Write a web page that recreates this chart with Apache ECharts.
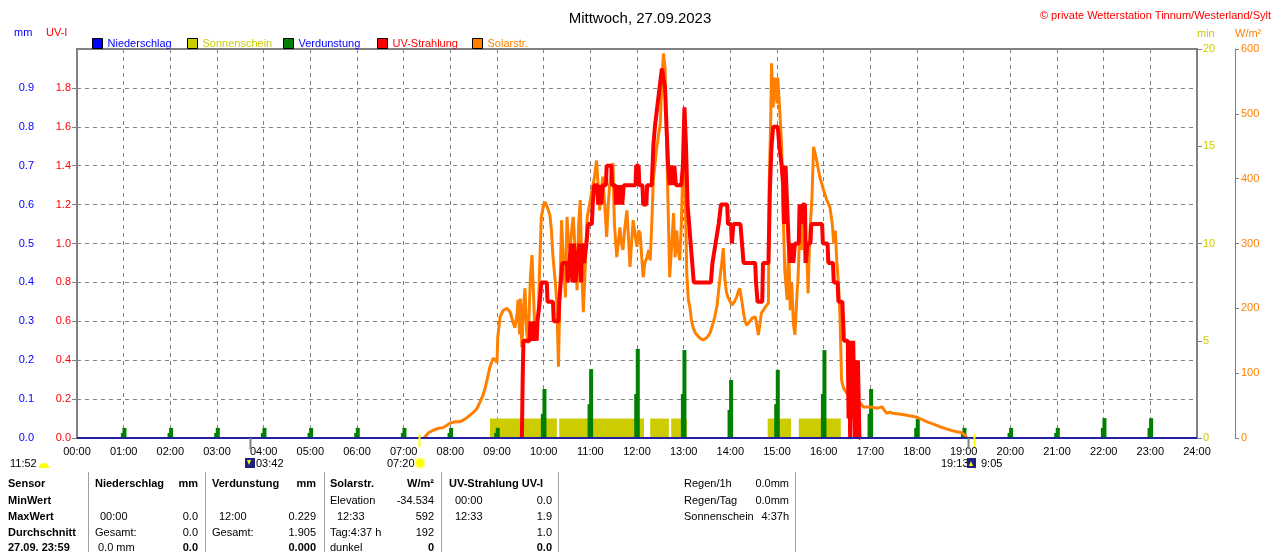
<!DOCTYPE html>
<html>
<head>
<meta charset="utf-8">
<title>Mittwoch, 27.09.2023</title>
<script src="https://cdn.jsdelivr.net/npm/echarts@6.0.0/dist/echarts.min.js"></script>
<style>
html, body { margin: 0; padding: 0; background: #fff; }
#chart { width: 1280px; height: 552px; }
</style>
</head>
<body>
<div id="chart"></div>
<script>
var FONT = "'Liberation Sans', Arial, sans-serif";

// Zeitachse: Minuten seit Mitternacht
var hourLabels = ['00:00', '01:00', '02:00', '03:00', '04:00', '05:00', '06:00', '07:00', '08:00',
    '09:00', '10:00', '11:00', '12:00', '13:00', '14:00', '15:00', '16:00', '17:00', '18:00',
    '19:00', '20:00', '21:00', '22:00', '23:00', '24:00'];

// Niederschlag (mm) - den ganzen Tag 0
var rainData = [[0, 0], [1440, 0]];

// Sonnenschein: Bloecke [Start, Ende] in Minuten, Hoehe in min/min
var sunStart = [531, 620, 737, 764, 888, 928];
var sunEnd = [617, 729, 761, 784, 918, 982];
var sunMinutes = 1;

// Verdunstung (mm) je Stunde
var evapHours = [1, 2, 3, 4, 5, 6, 7, 8, 9, 10, 11, 12, 13, 14, 15, 16, 17, 18, 19, 20, 21, 22, 23];
var evapPeak = [0.026, 0.026, 0.026, 0.026, 0.026, 0.026, 0.026, 0.026, 0.026, 0.126, 0.177, 0.229,
    0.226, 0.149, 0.175, 0.226, 0.126, 0.049, 0.026, 0.026, 0.026, 0.051, 0.051];
var evapBase = [0.013, 0.013, 0.013, 0.013, 0.013, 0.013, 0.013, 0.013, 0.013, 0.062, 0.087, 0.113,
    0.113, 0.072, 0.087, 0.113, 0.062, 0.026, 0.013, 0.013, 0.013, 0.026, 0.026];

// UV-Strahlung (UV-I), [Minute, Wert]
var uvData = [[572,0],[573,0.3],[574,0.5],[582,0.5],[583,0.6],[585,0.5],[586,0.6],[588,0.5],[589,0.6],
    [591,0.5],[592,0.6],[594,0.6],[595,0.7],[597,0.8],[604,0.8],[605,0.7],[612,0.7],[613,0.6],[619,0.6],
    [620,0.7],[622,0.8],[624,0.9],[630,0.9],[631,0.8],[633,0.9],[635,1.0],[637,0.8],[639,1.0],[641,0.8],
    [643,0.9],[646,1.0],[648,0.8],[650,1.0],[652,0.9],[655,1.0],[657,1.1],[662,1.1],[663,1.2],[665,1.3],
    [669,1.3],[670,1.2],[672,1.3],[674,1.2],[676,1.3],[680,1.3],[681,1.4],[687,1.4],[688,1.3],[692,1.3],
    [693,1.2],[695,1.3],[697,1.2],[699,1.3],[701,1.2],[703,1.3],[718,1.3],[719,1.4],[722,1.4],[723,1.3],
    [727,1.3],[728,1.2],[732,1.2],[733,1.3],[739,1.3],[741,1.5],[743,1.6],[746,1.7],[749,1.8],[752,1.9],
    [754,1.9],[756,1.8],[758,1.6],[760,1.4],[762,1.3],[764,1.4],[766,1.3],[768,1.4],[770,1.3],[777,1.3],
    [779,1.4],[781,1.7],[783,1.5],[785,1.2],[787,1.1],[789,1.0],[791,0.9],[793,0.8],[815,0.8],[817,0.9],
    [821,1.0],[825,1.1],[828,1.2],[836,1.2],[837,1.1],[841,1.1],[842,1.0],[844,1.1],[853,1.1],[855,1.0],
    [857,0.9],[872,0.9],[873,0.8],[875,0.7],[881,0.7],[882,0.9],[889,0.9],[891,1.3],[893,1.5],[895,1.6],
    [901,1.6],[903,1.5],[906,1.4],[908,1.3],[909,1.1],[911,1.4],[913,1.2],[915,1.0],[917,0.9],[919,1.0],
    [921,0.9],[923,1.0],[928,1.0],[929,1.2],[931,1.1],[933,1.2],[936,1.2],[937,0.9],[939,1.0],[943,1.0],
    [944,1.1],[958,1.1],[959,1.0],[965,1.0],[966,0.9],[972,0.9],[973,0.8],[978,0.8],[979,0.7],[984,0.7],
    [985,0.6],[986,0.5],[991,0.5],[992,0.1],[993,0.5],[994,0],[995,0.5],[997,0.1],[998,0.5],[1000,0],
    [1001,0.4],[1003,0],[1004,0.4],[1006,0],[1007,0]];

// Solarstrahlung (W/m²), [Minute, Wert]
var solarData = [[446,0],[448,3],[452,8],[458,12],[465,15],[471,16],[476,20],[480,23],[486,25],[492,25],
    [497,28],[501,31],[506,36],[510,40],[514,45],[518,55],[522,66],[525,78],[528,94],[531,110],[535,123],
    [538,120],[540,116],[541,156],[544,187],[548,197],[553,200],[557,194],[561,177],[563,170],[566,193],
    [567,213],[569,160],[570,215],[572,140],[574,200],[576,231],[578,165],[580,146],[583,250],[585,282],
    [587,220],[589,156],[591,170],[593,192],[595,270],[597,341],[600,360],[602,364],[605,355],[608,344],
    [610,320],[612,279],[615,240],[617,208],[619,110],[621,230],[623,336],[626,260],[628,217],[630,341],
    [632,300],[634,290],[636,320],[638,341],[640,300],[643,228],[645,330],[647,367],[649,260],[651,194],
    [653,250],[656,341],[659,360],[662,382],[665,400],[668,428],[670,390],[672,351],[674,380],[676,403],
    [679,350],[681,310],[683,360],[685,393],[687,410],[689,424],[691,330],[694,279],[696,300],[698,325],
    [700,300],[702,290],[704,320],[707,351],[709,310],[711,264],[713,300],[715,336],[718,310],[720,295],
    [722,320],[724,316],[726,280],[728,248],[730,270],[733,279],[735,290],[737,274],[739,330],[741,398],
    [745,444],[748,470],[750,486],[752,552],[754,593],[756,572],[758,459],[760,356],[762,248],[765,305],
    [767,347],[769,279],[771,320],[773,290],[775,274],[777,330],[779,418],[782,377],[784,254],[786,213],
    [788,202],[790,182],[792,171],[795,162],[797,159],[801,154],[805,151],[810,155],[814,162],[818,178],
    [820,187],[823,205],[825,228],[827,250],[829,270],[831,293],[833,244],[835,225],[837,217],[840,210],
    [842,205],[845,210],[848,217],[850,225],[852,231],[855,210],[857,193],[859,180],[861,174],[864,178],
    [868,185],[872,187],[874,175],[876,159],[878,175],[880,193],[883,198],[885,202],[889,208],[890,393],
    [892,495],[893,578],[895,510],[897,556],[900,516],[901,556],[904,495],[906,449],[908,341],[910,259],
    [913,213],[915,305],[917,197],[919,239],[921,177],[923,159],[926,228],[927,244],[930,351],[932,290],
    [934,341],[936,270],[938,300],[940,223],[942,310],[945,372],[947,449],[949,439],[951,428],[955,403],
    [960,382],[964,367],[968,356],[971,331],[973,300],[975,320],[977,270],[979,239],[981,187],[983,90],
    [985,79],[987,74],[990,69],[994,63],[1000,56],[1007,54],[1011,48],[1020,48],[1029,46],[1035,48],
    [1041,38],[1045,40],[1049,38],[1057,37],[1067,35],[1080,32],[1093,25],[1102,21],[1110,17],[1118,14],
    [1126,11],[1138,8],[1142,4],[1144,0]];

// Ereignisse unter der Zeitachse (Mond / Sonne)
var eventTimes = [222, 440, 1145, 1153];
var eventKinds = ['moon', 'sun', 'moon', 'sun'];

var legendNames = ['Niederschlag', 'Sonnenschein', 'Verdunstung', 'UV-Strahlung', 'Solarstr.'];
var legendIcon = ['#0000ff', '#cccc00', '#008000', '#ff0000', '#ff8000'];
var legendText = ['#0000ff', '#cccc00', '#0000ff', '#ff0000', '#ff8000'];
var legendLeft = [87, 182, 278, 372, 467];

var evapData = [];
for (var i = 0; i < evapHours.length; i++) {
    evapData.push([evapHours[i] * 60 - 1, evapBase[i]]);
    evapData.push([evapHours[i] * 60 + 1, evapPeak[i]]);
}
var sunData = [];
for (var i = 0; i < sunStart.length; i++) {
    sunData.push([sunStart[i], sunEnd[i], sunMinutes]);
}

var chart = echarts.init(document.getElementById('chart'));

function oneDecimal(v) { return v.toFixed(1); }

var dashed = { color: '#808080', type: [4, 4], width: 1 };

var option = {
    animation: false,
    textStyle: { fontFamily: FONT },
    title: [
        { text: 'Mittwoch, 27.09.2023', left: 'center', top: 6,
          textStyle: { fontSize: 15, fontWeight: 'normal', color: '#000', fontFamily: FONT } },
        { text: '© private Wetterstation Tinnum/Westerland/Sylt', right: 4, top: 5,
          textStyle: { fontSize: 11, fontWeight: 'normal', color: '#ff0000', fontFamily: FONT } }
    ],
    legend: legendNames.map(function (n, i) {
        return {
            left: legendLeft[i], top: 33, icon: 'rect', itemWidth: 10, itemHeight: 10,
            selectedMode: false,
            textStyle: { fontSize: 11, fontFamily: FONT, color: legendText[i] },
            data: [{ name: n, itemStyle: { color: legendIcon[i], borderColor: '#000', borderWidth: 1 },
                     textStyle: { color: legendText[i] } }]
        };
    }),
    grid: { left: 77, right: 83, top: 49, bottom: 114, show: true, borderColor: '#808080', borderWidth: 2 },
    xAxis: {
        type: 'value', min: 0, max: 1440, interval: 60,
        axisLine: { show: true, lineStyle: { color: '#808080' } },
        axisTick: { show: false },
        axisLabel: { color: '#000', fontSize: 11, margin: 8, fontFamily: FONT,
                     formatter: function (v) { return hourLabels[Math.round(v / 60)]; } },
        splitLine: { show: true, lineStyle: dashed }
    },
    yAxis: [
        { type: 'value', position: 'left', offset: 37, min: 0, max: 1, interval: 0.1,
          axisLine: { show: true, lineStyle: { color: '#808080' } },
          axisTick: { show: true, length: 4, lineStyle: { color: '#808080' } },
          axisLabel: { color: '#0000ff', fontSize: 11, margin: 6, showMaxLabel: false, formatter: oneDecimal },
          splitLine: { show: false } },
        { type: 'value', position: 'left', offset: 0, min: 0, max: 2, interval: 0.2,
          axisLine: { show: true, lineStyle: { color: '#808080', width: 2 } },
          axisTick: { show: true, length: 5, lineStyle: { color: '#808080' } },
          axisLabel: { color: '#ff0000', fontSize: 11, margin: 6, showMaxLabel: false, formatter: oneDecimal },
          splitLine: { show: true, lineStyle: dashed } },
        { type: 'value', position: 'right', offset: 0, min: 0, max: 20, interval: 5,
          name: 'min', nameLocation: 'end', nameGap: 10,
          nameTextStyle: { color: '#cccc00', fontSize: 11, align: 'left' },
          axisLine: { show: true, lineStyle: { color: '#808080', width: 2 } },
          axisTick: { show: true, length: 5, lineStyle: { color: '#808080' } },
          axisLabel: { color: '#cccc00', fontSize: 11, margin: 6 },
          splitLine: { show: false } },
        { type: 'value', position: 'right', offset: 38, min: 0, max: 600, interval: 100,
          name: 'W/m²', nameLocation: 'end', nameGap: 10,
          nameTextStyle: { color: '#ff8000', fontSize: 11, align: 'left' },
          axisLine: { show: true, lineStyle: { color: '#808080' } },
          axisTick: { show: true, length: 4, lineStyle: { color: '#808080' } },
          axisLabel: { color: '#ff8000', fontSize: 11, margin: 6 },
          splitLine: { show: false } }
    ],
    series: [
        {
            name: 'Sonnenschein', type: 'custom', yAxisIndex: 2, z: 1,
            itemStyle: { color: '#cccc00' },
            encode: { x: [0, 1], y: 2 },
            data: sunData,
            renderItem: function (params, api) {
                var a = api.coord([api.value(0), api.value(2)]);
                var b = api.coord([api.value(1), 0]);
                return { type: 'rect', shape: { x: a[0], y: a[1], width: b[0] - a[0], height: b[1] - a[1] },
                         style: { fill: '#cccc00' } };
            }
        },
        {
            name: 'Verdunstung', type: 'bar', yAxisIndex: 0, z: 2, barWidth: 4,
            itemStyle: { color: '#008000' },
            data: evapData
        },
        {
            name: 'Solarstr.', type: 'line', yAxisIndex: 3, z: 3, showSymbol: false, symbol: 'none',
            lineStyle: { color: '#ff8000', width: 3 }, itemStyle: { color: '#ff8000' },
            data: solarData
        },
        {
            name: 'UV-Strahlung', type: 'line', yAxisIndex: 1, z: 4, showSymbol: false, symbol: 'none',
            lineStyle: { color: '#ff0000', width: 4 }, itemStyle: { color: '#ff0000' },
            data: uvData
        },
        {
            name: 'Niederschlag', type: 'line', yAxisIndex: 0, z: 5, showSymbol: false, symbol: 'none',
            lineStyle: { color: '#2020a0', width: 2 }, itemStyle: { color: '#0000ff' },
            data: rainData
        }
    ]
};

chart.setOption(option);

// Tabelle und Markierungen unter dem Diagramm
var g = [];
function txt(x, y, s, align, bold, color) {
    g.push({ type: 'text', x: x, y: y, z: 10,
             style: { text: s, fill: color || '#000', textAlign: align || 'left', textVerticalAlign: 'middle',
                      font: (bold ? 'bold ' : '') + '11px ' + FONT } });
}
function vline(x, y1, y2, color, w) {
    g.push({ type: 'line', z: 10, shape: { x1: x, y1: y1, x2: x, y2: y2 },
             style: { stroke: color, lineWidth: w || 1 } });
}

// Einheiten der linken Achsen
txt(14, 33, 'mm', 'left', false, '#0000ff');
txt(46, 33, 'UV-I', 'left', false, '#ff0000');

// Ereignis-Striche unter der Achse
var axisY = chart.convertToPixel({ gridIndex: 0 }, [0, 0])[1];
for (var i = 0; i < eventTimes.length; i++) {
    var px = Math.round(chart.convertToPixel({ gridIndex: 0 }, [eventTimes[i], 0])[0]);
    if (eventKinds[i] === 'moon') {
        vline(px + 0.5, axisY, axisY + 11, '#808080', 2);
    } else {
        vline(px + 0.5, axisY - 4, axisY + 9, '#ffff00', 2);
    }
}

// Sonne/Mond-Beschriftung
txt(10, 464, '11:52');
g.push({ type: 'sector', z: 10, shape: { cx: 44, cy: 468, r0: 0, r: 5, startAngle: Math.PI, endAngle: 2 * Math.PI },
         style: { fill: '#ffff00' } });
g.push({ type: 'rect', z: 10, shape: { x: 245, y: 458, width: 10, height: 10 }, style: { fill: '#202080' } });
g.push({ type: 'polygon', z: 10, shape: { points: [[247, 460], [251, 460], [249, 465]] }, style: { fill: '#ffff00' } });
txt(256, 464, '03:42');
txt(387, 464, '07:20');
g.push({ type: 'circle', z: 10, shape: { cx: 420, cy: 463, r: 6 }, style: { fill: '#ffff99' } });
g.push({ type: 'circle', z: 10, shape: { cx: 420, cy: 463, r: 4 }, style: { fill: '#ffff00' } });
txt(941, 464, '19:13');
g.push({ type: 'rect', z: 10, shape: { x: 967, y: 458, width: 9, height: 10 }, style: { fill: '#202080' } });
g.push({ type: 'polygon', z: 10, shape: { points: [[969, 466], [973, 466], [971, 461]] }, style: { fill: '#ffff00' } });
txt(981, 464, '9:05');

// Tabellen-Trennlinien
[88, 205, 324, 441, 558, 795].forEach(function (x) { vline(x + 0.5, 472, 552, '#a0a0a0', 1); });

var rowY = [484, 501, 517, 533, 548];
txt(8, rowY[0], 'Sensor', 'left', true);
txt(95, rowY[0], 'Niederschlag', 'left', true);
txt(198, rowY[0], 'mm', 'right', true);
txt(212, rowY[0], 'Verdunstung', 'left', true);
txt(316, rowY[0], 'mm', 'right', true);
txt(330, rowY[0], 'Solarstr.', 'left', true);
txt(434, rowY[0], 'W/m²', 'right', true);
txt(449, rowY[0], 'UV-Strahlung UV-I', 'left', true);

txt(8, rowY[1], 'MinWert', 'left', true);
txt(330, rowY[1], 'Elevation');
txt(434, rowY[1], '-34.534', 'right');
txt(455, rowY[1], '00:00');
txt(552, rowY[1], '0.0', 'right');

txt(8, rowY[2], 'MaxWert', 'left', true);
txt(100, rowY[2], '00:00');
txt(198, rowY[2], '0.0', 'right');
txt(219, rowY[2], '12:00');
txt(316, rowY[2], '0.229', 'right');
txt(337, rowY[2], '12:33');
txt(434, rowY[2], '592', 'right');
txt(455, rowY[2], '12:33');
txt(552, rowY[2], '1.9', 'right');

txt(8, rowY[3], 'Durchschnitt', 'left', true);
txt(95, rowY[3], 'Gesamt:');
txt(198, rowY[3], '0.0', 'right');
txt(212, rowY[3], 'Gesamt:');
txt(316, rowY[3], '1.905', 'right');
txt(330, rowY[3], 'Tag:4:37 h');
txt(434, rowY[3], '192', 'right');
txt(552, rowY[3], '1.0', 'right');

txt(8, rowY[4], '27.09. 23:59', 'left', true);
txt(98, rowY[4], '0.0 mm');
txt(198, rowY[4], '0.0', 'right', true);
txt(316, rowY[4], '0.000', 'right', true);
txt(330, rowY[4], 'dunkel');
txt(434, rowY[4], '0', 'right', true);
txt(552, rowY[4], '0.0', 'right', true);

txt(684, rowY[0], 'Regen/1h');
txt(789, rowY[0], '0.0mm', 'right');
txt(684, rowY[1], 'Regen/Tag');
txt(789, rowY[1], '0.0mm', 'right');
txt(684, rowY[2], 'Sonnenschein');
txt(789, rowY[2], '4:37h', 'right');

chart.setOption({ graphic: { elements: g } });
</script>
</body>
</html>
